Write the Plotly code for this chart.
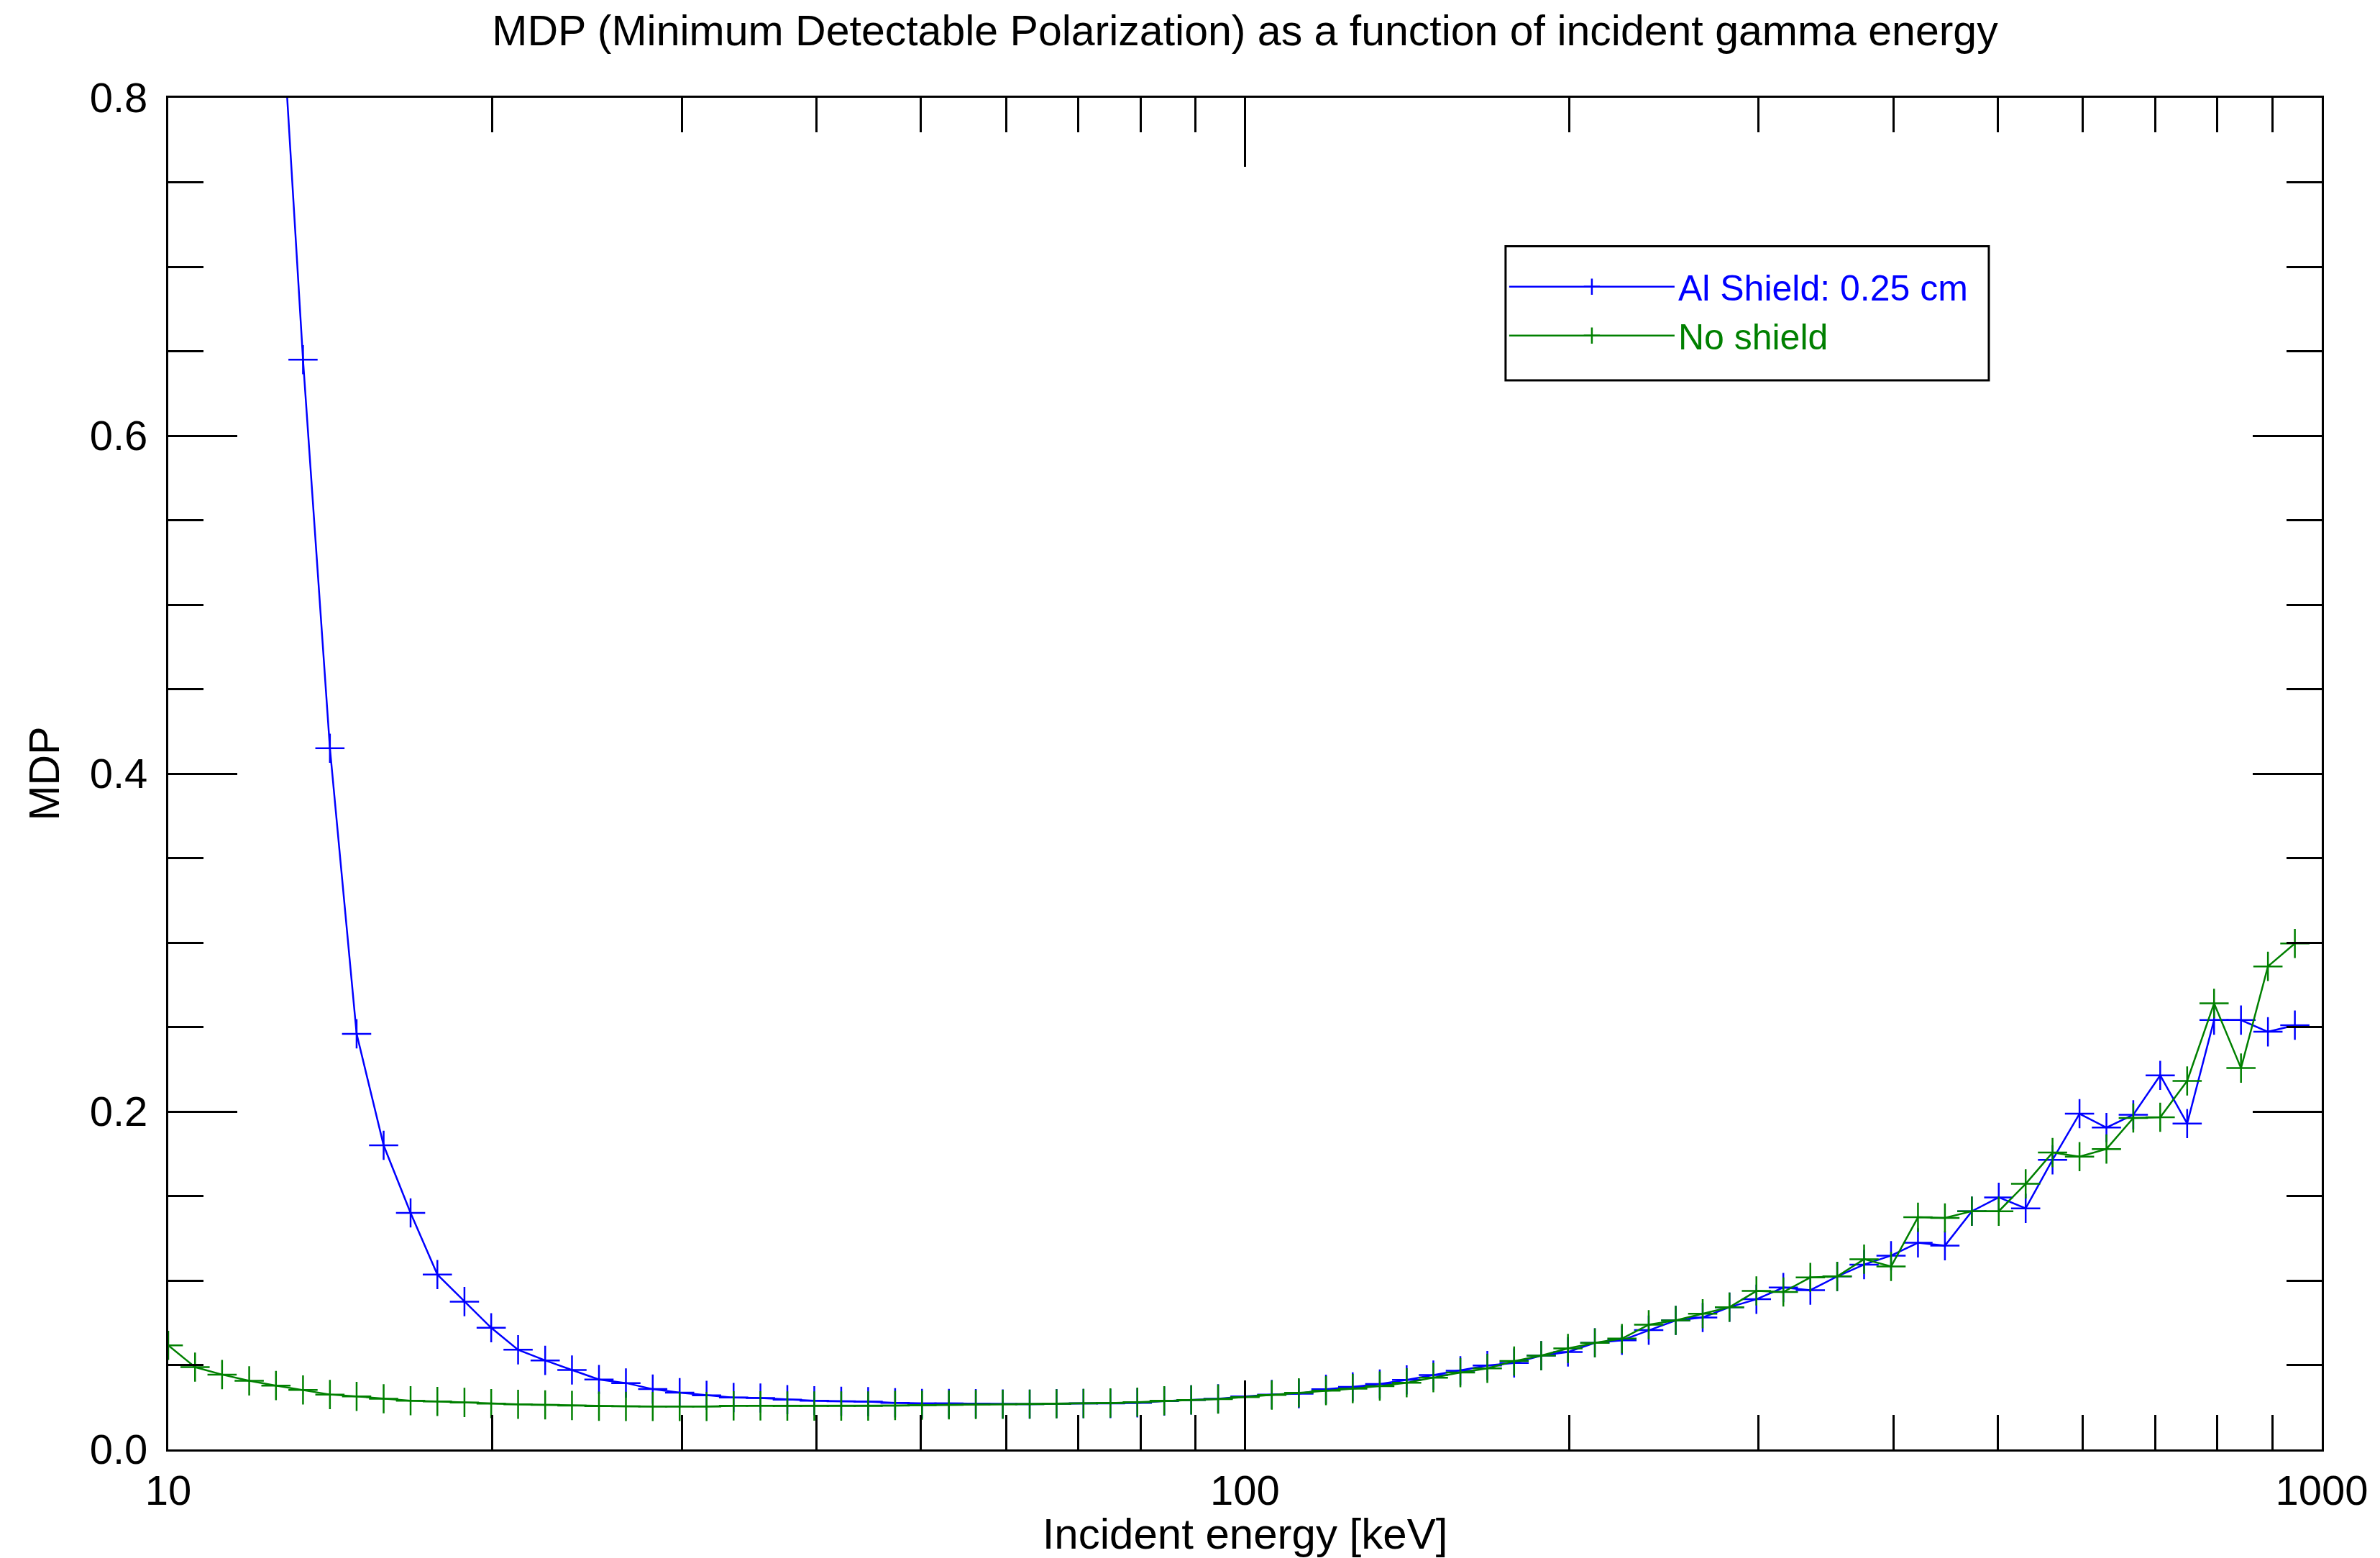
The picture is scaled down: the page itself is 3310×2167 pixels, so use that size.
import plotly.graph_objects as go

# Incident energies [keV] (log-spaced, 40 per decade)
energy = [10.00, 10.59, 11.22, 11.89, 12.59, 13.34, 14.13, 14.96, 15.85, 16.79,
          17.78, 18.84, 19.95, 21.13, 22.39, 23.71, 25.12, 26.61, 28.18, 29.85,
          31.62, 33.50, 35.48, 37.58, 39.81, 42.17, 44.67, 47.32, 50.12, 53.09,
          56.23, 59.57, 63.10, 66.83, 70.79, 74.99, 79.43, 84.14, 89.13, 94.41,
          100.0, 105.9, 112.2, 118.9, 125.9, 133.4, 141.3, 149.6, 158.5, 167.9,
          177.8, 188.4, 199.5, 211.3, 223.9, 237.1, 251.2, 266.1, 281.8, 298.5,
          316.2, 335.0, 354.8, 375.8, 398.1, 421.7, 446.7, 473.2, 501.2, 530.9,
          562.3, 595.7, 631.0, 668.3, 707.9, 749.9, 794.3, 841.4, 891.3, 944.1]

# MDP with 0.25 cm Al shield (starts at energy[4]; lower ones are off-scale)
mdp_al = [0.91, 0.645, 0.415, 0.246, 0.180, 0.140, 0.1035, 0.0875, 0.072, 0.059,
          0.0527, 0.047, 0.0414, 0.0393, 0.0357, 0.0336, 0.032, 0.0307, 0.0304, 0.0295,
          0.0288, 0.0285, 0.0283, 0.0276, 0.0272, 0.0272, 0.0271, 0.0269, 0.0268, 0.0271,
          0.0272, 0.0272, 0.0276, 0.0286, 0.0293, 0.0300, 0.0314, 0.0325, 0.0330, 0.0356,
          0.0370, 0.0387, 0.0412, 0.0440, 0.0466, 0.0497, 0.0512, 0.0555, 0.0577, 0.0631,
          0.0646, 0.0706, 0.0764, 0.0781, 0.0842, 0.0889, 0.0958, 0.0943, 0.1024, 0.1094,
          0.1147, 0.1223, 0.1206, 0.1410, 0.1492, 0.1427, 0.1714, 0.1987, 0.1905, 0.1981,
          0.2214, 0.1929, 0.2541, 0.2541, 0.2472, 0.2511]
energy_al = energy[4:]

# MDP without shield
mdp_none = [0.0616, 0.0487, 0.0443, 0.0406, 0.0378, 0.0352, 0.0325, 0.0314, 0.0300, 0.0288,
            0.0284, 0.0278, 0.0271, 0.0267, 0.0264, 0.0260, 0.0256, 0.0255, 0.0254, 0.0254,
            0.0254, 0.0258, 0.0258, 0.0257, 0.0257, 0.0257, 0.0257, 0.0260, 0.0262, 0.0264,
            0.0266, 0.0267, 0.0268, 0.0270, 0.0272, 0.0275, 0.0280, 0.0288, 0.0293, 0.0298,
            0.0310, 0.0322, 0.0335, 0.0348, 0.0360, 0.0375, 0.0395, 0.0425, 0.0455, 0.0480,
            0.0523, 0.0555, 0.0598, 0.0631, 0.0656, 0.0738, 0.0764, 0.0803, 0.0842, 0.0938,
            0.0932, 0.1018, 0.1024, 0.1126, 0.1083, 0.1374, 0.1370, 0.1410, 0.1410, 0.1572,
            0.1757, 0.1733, 0.1778, 0.1962, 0.1966, 0.2181, 0.2640, 0.2257, 0.2859, 0.2995]

series_names = ["Al Shield: 0.25 cm", "No shield"]
series_colors = ["#0000ff", "#008000"]

y_ticks = [0.0, 0.2, 0.4, 0.6, 0.8]
y_ticklabels = ["0.0", "0.2", "0.4", "0.6", "0.8"]
x_ticks = [10, 100, 1000]
x_ticklabels = ["10", "100", "1000"]

FONT = "Liberation Sans, Arial, Helvetica, sans-serif"

fig = go.Figure()
for xs, ys, name, col in [(energy_al, mdp_al, series_names[0], series_colors[0]),
                          (energy, mdp_none, series_names[1], series_colors[1])]:
    fig.add_trace(go.Scatter(
        x=xs, y=ys, mode="lines+markers",
        name=f"<span style='color:{col}'>{name}</span>",
        line=dict(color=col, width=2.5),
        marker=dict(symbol="cross-thin", size=29, line=dict(color=col, width=2.5)),
    ))

axis_common = dict(
    showline=True, linecolor="black", linewidth=3, mirror="ticks",
    ticks="inside", tickcolor="black", tickwidth=2.5, ticklen=96,
    showgrid=False, zeroline=False,
    tickfont=dict(family=FONT, size=58, color="black"),
)

fig.update_xaxes(
    type="log", range=[1, 3],
    tickvals=x_ticks, ticktext=x_ticklabels,
    minor=dict(ticks="inside", ticklen=48, tickwidth=2.5, tickcolor="black", dtick="D1", showgrid=False),
    title=dict(text="Incident energy [keV]", font=dict(family=FONT, size=60, color="black"), standoff=8),
    ticklabelstandoff=4,
    **axis_common,
)
fig.update_yaxes(
    range=[0, 0.8],
    tickvals=y_ticks, ticktext=y_ticklabels,
    minor=dict(ticks="inside", ticklen=49, tickwidth=2.5, tickcolor="black", dtick=0.05, showgrid=False),
    title=dict(text="MDP", font=dict(family=FONT, size=59, color="black"), standoff=24),
    ticklabelstandoff=14,
    **axis_common,
)

# legend frame (decoration), drawn in paper coordinates
fig.add_shape(type="rect", xref="paper", yref="paper",
              x0=0.6210, x1=0.8454, y0=0.7910, y1=0.8902,
              line=dict(color="black", width=3), fillcolor="white", layer="below")

fig.update_layout(
    width=3310, height=2167,
    margin=dict(l=234, r=81, t=136, b=136),
    paper_bgcolor="white", plot_bgcolor="white",
    title=dict(text="MDP (Minimum Detectable Polarization) as a function of incident gamma energy",
               x=0.5, xref="paper", y=1 - 42 / 2167, yanchor="middle",
               font=dict(family=FONT, size=59, color="black")),
    legend=dict(
        x=0.621, y=0.881, xanchor="left", yanchor="top",
        bgcolor="rgba(0,0,0,0)", borderwidth=0,
        font=dict(family=FONT, size=50),
        itemwidth=230,
    ),
    showlegend=True,
)

fig.write_html("out.html")
